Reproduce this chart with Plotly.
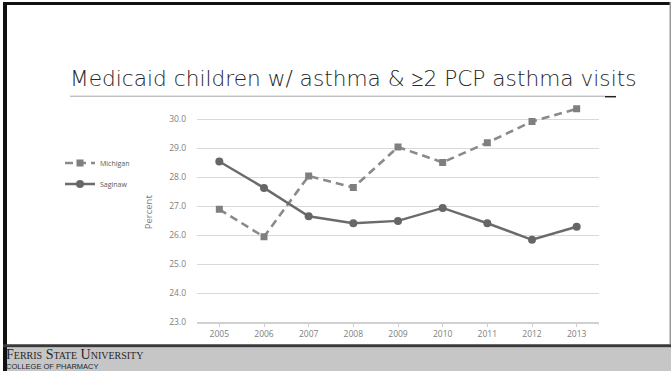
import plotly.graph_objects as go

W, H = 671, 376

years = ["2005", "2006", "2007", "2008", "2009", "2010", "2011", "2012", "2013"]
michigan = [26.9, 25.95, 28.05, 27.65, 29.05, 28.52, 29.2, 29.93, 30.37]
saginaw = [28.55, 27.64, 26.66, 26.42, 26.5, 26.95, 26.42, 25.85, 26.3]
y_ticks = [23.0, 24.0, 25.0, 26.0, 27.0, 28.0, 29.0, 30.0]

title_text = "Medicaid children w/ asthma &amp; ≥2 PCP asthma visits"


def px(x):
    return x / W


def py(y):
    return 1 - y / H


xi = list(range(len(years)))

fig = go.Figure()
fig.add_trace(go.Scatter(
    x=xi, y=michigan, name="Michigan", mode="lines+markers",
    line=dict(color="#8a8a8a", width=2.6, dash="8px,5px"),
    marker=dict(symbol="square", size=7, color="#7f7f7f"),
    legendgroup="a",
))
fig.add_trace(go.Scatter(
    x=xi, y=saginaw, name="Saginaw", mode="lines+markers",
    line=dict(color="#6b6b6b", width=2.4),
    marker=dict(symbol="circle", size=8, color="#666666"),
    legendgroup="b",
))

grid = "#d9d9d9"
fig.update_xaxes(
    domain=[px(197), px(599)], range=[-0.5, 8.5],
    tickvals=xi, ticktext=years, showgrid=False, zeroline=False,
    showline=True, linecolor="#d0d0d0", linewidth=1.5,
    ticks="outside", ticklen=3, tickcolor="#d0d0d0",
    tickfont=dict(family="Open Sans", size=8.5, color="#808080"),
    fixedrange=True,
)
fig.update_yaxes(
    domain=[py(326.7), py(103.5)], range=[23.0, 30.6],
    tickvals=y_ticks, ticktext=[f"{v:.1f}" for v in y_ticks],
    showgrid=True, gridcolor=grid, gridwidth=1, zeroline=False,
    showline=False, ticks="", ticklabelstandoff=10,
    tickfont=dict(family="Open Sans", size=8.5, color="#808080"),
    title=dict(text="Percent", standoff=14,
               font=dict(family="Open Sans", size=9.5, color="#808080")),
    fixedrange=True,
)

shapes = [
    # slide frame
    dict(type="rect", xref="paper", yref="paper", x0=px(3), x1=px(671), y0=py(2), y1=py(5),
         fillcolor="#111111", line_width=0, layer="above"),
    dict(type="rect", xref="paper", yref="paper", x0=px(3), x1=px(7), y0=py(376), y1=py(2),
         fillcolor="#111111", line_width=0, layer="above"),
    dict(type="rect", xref="paper", yref="paper", x0=px(669.5), x1=px(671), y0=py(349), y1=py(2),
         fillcolor="#9a9a9a", line_width=0, layer="above"),
    # footer band
    dict(type="rect", xref="paper", yref="paper", x0=px(3), x1=px(671), y0=py(376), y1=py(352),
         fillcolor="#c6c6c6", line_width=0, layer="below"),
    dict(type="rect", xref="paper", yref="paper", x0=px(3), x1=px(671), y0=py(352), y1=py(349),
         fillcolor="#3a3a3a", line_width=0, layer="above"),
    # title rule
    dict(type="line", xref="paper", yref="paper", x0=px(70), x1=px(605), y0=py(97.5), y1=py(97.5),
         line=dict(color="#a8a8a8", width=1)),
    dict(type="line", xref="paper", yref="paper", x0=px(605), x1=px(616), y0=py(98), y1=py(98),
         line=dict(color="#222222", width=1.5)),
    # closing tick at the end of the category axis
    dict(type="line", xref="x", yref="paper", x0=8.5, x1=8.5, y0=py(326.7), y1=py(329.7),
         line=dict(color="#d0d0d0", width=1)),
]

annotations = [
    dict(text=title_text, xref="paper", yref="paper", x=px(68), y=py(79.5),
         xanchor="left", yanchor="middle", showarrow=False,
         font=dict(family="DejaVu Sans", size=21.7, color="#262626", weight=300)),
    dict(text="Ferris State University", xref="paper", yref="paper", x=px(4), y=py(359.5),
         xanchor="left", yanchor="middle", showarrow=False,
         font=dict(family="Liberation Serif", size=14, color="#262626", variant="small-caps")),
    dict(text="COLLEGE OF PHARMACY", xref="paper", yref="paper", x=px(3.5), y=py(371.5),
         xanchor="left", yanchor="middle", showarrow=False,
         font=dict(family="Liberation Sans", size=7.5, color="#262626")),
]

fig.update_layout(
    width=W, height=H, margin=dict(l=0, r=0, t=0, b=0),
    paper_bgcolor="white", plot_bgcolor="white",
    showlegend=True,
    legend=dict(x=px(60), y=py(150.5), xanchor="left", yanchor="top",
                font=dict(family="Open Sans", size=7, color="#595959"),
                tracegroupgap=2, itemwidth=30, bgcolor="rgba(0,0,0,0)"),
    shapes=shapes, annotations=annotations,
)

fig.write_html("out.html")
